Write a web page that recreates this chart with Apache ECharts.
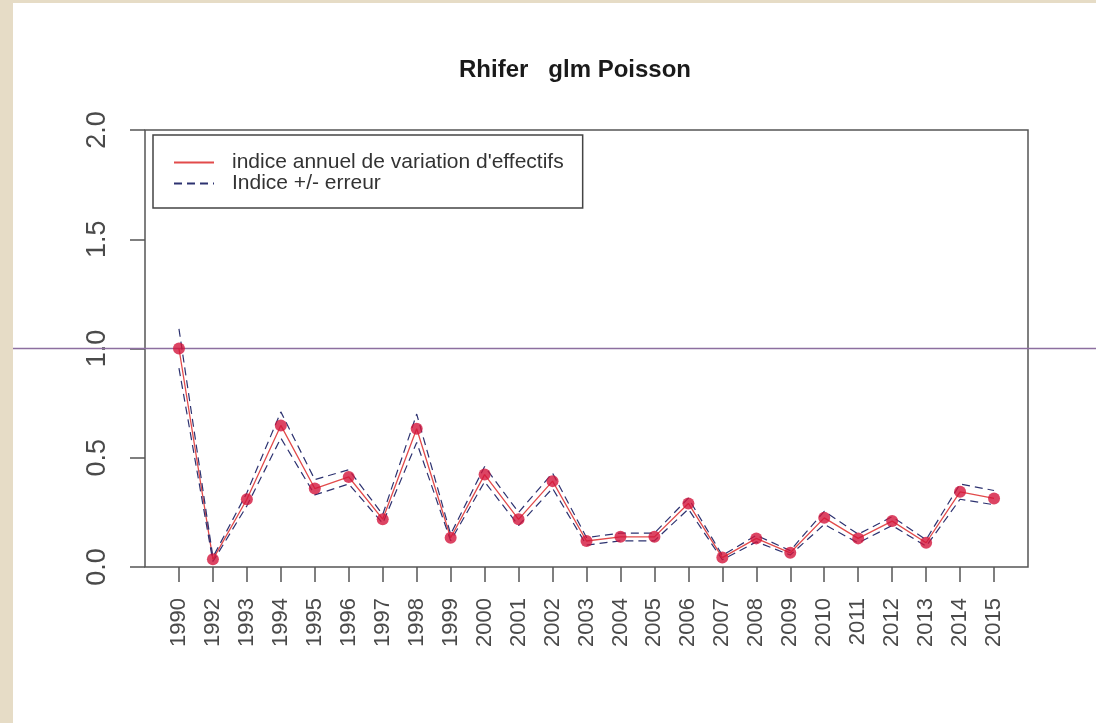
<!DOCTYPE html>
<html>
<head>
<meta charset="utf-8">
<script src="https://cdn.jsdelivr.net/npm/echarts@6/dist/echarts.min.js"></script>
<style>
  html, body { margin: 0; padding: 0; background: #e6dcc6; }
  #paper { position: absolute; left: 13px; top: 3px; width: 1083px; height: 720px; background: #ffffff; }
  #chart { position: absolute; left: 0; top: 0; width: 1096px; height: 723px; }
</style>
</head>
<body>
<div id="paper"></div>
<div id="chart"></div>
<script>
const titleText = 'Rhifer   glm Poisson';
const years = ['1990','1992','1993','1994','1995','1996','1997','1998','1999','2000','2001','2002','2003','2004','2005','2006','2007','2008','2009','2010','2011','2012','2013','2014','2015'];
const indice = [1.00, 0.035, 0.31, 0.648, 0.359, 0.412, 0.219, 0.633, 0.134, 0.423, 0.218, 0.393, 0.119, 0.138, 0.138, 0.291, 0.043, 0.131, 0.065, 0.225, 0.131, 0.21, 0.111, 0.344, 0.314];
const upper = [1.09, 0.045, 0.34, 0.71, 0.40, 0.445, 0.24, 0.70, 0.15, 0.46, 0.25, 0.43, 0.135, 0.155, 0.155, 0.315, 0.053, 0.145, 0.075, 0.255, 0.15, 0.23, 0.125, 0.38, 0.35];
const lower = [0.91, 0.025, 0.28, 0.59, 0.33, 0.38, 0.20, 0.57, 0.12, 0.39, 0.19, 0.36, 0.10, 0.12, 0.12, 0.265, 0.033, 0.115, 0.055, 0.195, 0.11, 0.19, 0.095, 0.31, 0.285];
const refLevel = 1.0;
const yTicks = [0, 0.5, 1.0, 1.5, 2.0];
const nameMain = "indice annuel de variation d'effectifs";
const nameErr = 'Indice +/- erreur';

const cats = [''].concat(years).concat(['']);
const pts = arr => arr.map((v, i) => [i + 1, v]);

const chart = echarts.init(document.getElementById('chart'), null, { renderer: 'canvas' });
const font = "'Liberation Sans', Arial, sans-serif";
const gray = '#4a4a4a';

chart.setOption({
  backgroundColor: 'transparent',
  animation: false,
  title: {
    text: titleText,
    left: 454, top: 53,
    textStyle: { fontFamily: font, fontWeight: 'bold', fontSize: 24, color: '#1a1a1a' }
  },
  legend: {
    data: [nameMain, nameErr],
    orient: 'vertical',
    left: 153, top: 135,
    padding: [17, 19, 14, 20],
    itemWidth: 40, itemHeight: 14, itemGap: 0,
    backgroundColor: '#ffffff',
    borderColor: '#444444', borderWidth: 1.5, borderRadius: 0,
    itemStyle: { color: 'rgba(0,0,0,0)', borderColor: 'rgba(0,0,0,0)', borderWidth: 0 },
    textStyle: { fontFamily: font, fontSize: 21, color: '#333', lineHeight: 20, padding: [0, 0, 0, 13] },
    selectedMode: false
  },
  grid: [
    { left: 145, right: 68, top: 130, bottom: 156, show: true, borderColor: '#555555', borderWidth: 1.5, backgroundColor: 'transparent' },
    { left: 13, right: 0, top: 130, bottom: 156, show: false }
  ],
  xAxis: [
    {
      gridIndex: 0, type: 'category', data: cats, boundaryGap: false,
      axisLine: { show: false },
      axisTick: { show: true, inside: false, length: 15, interval: (i, v) => v !== '', lineStyle: { color: '#555', width: 1.5 } },
      axisLabel: { interval: 0, rotate: 90, margin: 31, fontFamily: font, fontSize: 22, color: gray },
      splitLine: { show: false }
    },
    { gridIndex: 1, type: 'value', min: 0, max: 1, show: false }
  ],
  yAxis: [
    {
      gridIndex: 0, type: 'value', min: yTicks[0], max: yTicks[yTicks.length - 1], interval: 0.5,
      axisLine: { show: false },
      axisTick: { show: true, length: 15, lineStyle: { color: '#555', width: 1.5 } },
      axisLabel: { rotate: 90, margin: 34, fontFamily: font, fontSize: 27, color: gray, formatter: v => v.toFixed(1) },
      splitLine: { show: false }
    },
    { gridIndex: 1, type: 'value', min: yTicks[0], max: yTicks[yTicks.length - 1], show: false }
  ],
  series: [
    {
      name: 'ref', type: 'line', xAxisIndex: 1, yAxisIndex: 1,
      data: [[0, refLevel], [1, refLevel]],
      symbol: 'none', lineStyle: { color: '#8d6fa0', width: 1.6 }, silent: true, z: 1
    },
    {
      name: nameMain, type: 'line', data: pts(indice),
      symbol: 'none', lineStyle: { color: '#e24b4b', width: 1.3 }, itemStyle: { color: '#e24b4b' }, z: 3
    },
    {
      name: nameErr, type: 'line', data: pts(upper),
      symbol: 'none', lineStyle: { color: '#2d3270', width: 1.2, type: [8, 5] }, itemStyle: { color: '#5f6c96' }, z: 4
    },
    {
      name: nameErr, type: 'line', data: pts(lower),
      symbol: 'none', lineStyle: { color: '#2d3270', width: 1.2, type: [8, 5] }, itemStyle: { color: '#5f6c96' }, z: 4
    },
    {
      name: 'points', type: 'scatter', data: pts(indice),
      symbol: 'circle', symbolSize: 12, itemStyle: { color: '#d3153c' }, z: 5
    }
  ]
});
</script>
</body>
</html>
